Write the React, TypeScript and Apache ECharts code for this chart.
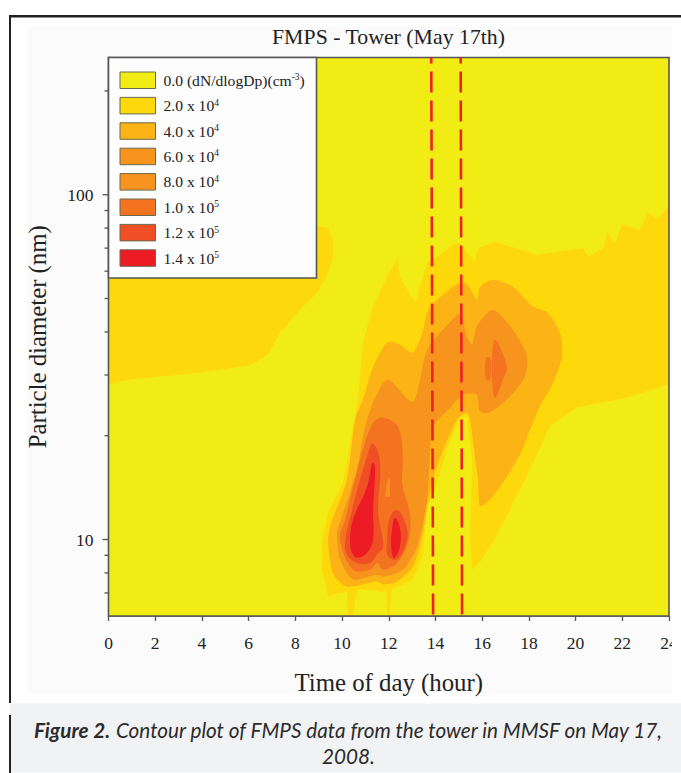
import React, { useEffect, useRef } from "react";
import * as echarts from "echarts";

type P = [number, number];

const hourTicks = [0, 2, 4, 6, 8, 10, 12, 14, 16, 18, 20, 22, 24];
const diameterLabels = [10, 100];
const diameterMinorTicks = [7, 8, 9, 20, 30, 40, 50, 60, 70, 80, 90, 200];
const samplingHours = [
  [13.82, 13.9],
  [15.08, 15.14],
];

const levelNames = [
  "0.0 (dN/dlogDp)(cm^-3)",
  "2.0 x 10^4",
  "4.0 x 10^4",
  "6.0 x 10^4",
  "8.0 x 10^4",
  "1.0 x 10^5",
  "1.2 x 10^5",
  "1.4 x 10^5",
];
const levelColors = ["#F2EC15", "#FDD90B", "#FCB316", "#F7941E", "#F7931E", "#F47321", "#F04F25", "#ED1C24"];
const levelSmooth = [0, 0, 0.25, 0.25, 0, 0.35, 0.4, 0.4];

const level0: P[][] = [[[0, 6], [24, 6], [24, 250], [0, 250]]];

const level2Band: P[] = [
  [0, 28.2], [0.92, 29.1], [3.92, 30.5], [6.06, 32], [6.83, 34.4], [7.34, 39.8], [8.2, 46.4], [8.93, 52],
  [9.27, 56.7], [9.61, 64.8], [9.61, 74], [9.4, 80], [8.97, 81], [8.2, 79], [0, 57.5],
];
const level2Main: P[] = [
  [9.4, 6.85], [9.14, 8.17], [9.14, 9.8], [9.4, 12], [10.04, 14.6], [10.68, 25.5], [10.9, 37.3], [11.29, 46.6],
  [11.93, 58], [12.27, 63.5], [12.36, 66], [12.48, 57.8], [13.13, 48.6], [13.64, 63.5], [14.2, 67], [14.75, 71.6],
  [15.05, 72.6], [15.69, 64], [15.82, 70], [16.55, 73], [18.35, 67], [20.32, 70], [20.54, 66], [21.18, 70],
  [21.35, 78], [21.69, 72], [21.99, 82], [22.76, 79], [23.1, 89], [23.49, 85], [24, 93], [24, 28.2],
  [22.2, 25.8], [20.1, 24.2], [18.9, 21.3], [18.05, 16], [16.76, 10.7], [16, 8.75], [15.57, 8.17], [15.48, 10],
  [15.57, 17.06], [15.35, 22.7], [15.05, 22.6], [14.5, 18.3], [13.9, 13.4], [13.64, 12.5], [13.47, 9.1],
  [13.04, 7.66], [12.14, 7.17], [12.01, 6], [11.93, 6], [11.93, 7.06], [10.64, 7.17], [10.47, 6], [10.25, 6],
  [10.21, 7.06],
];
const level4: P[] = [
  [9.61, 8], [9.4, 9.8], [9.49, 10.9], [10.21, 14.93], [10.56, 22.3], [10.9, 25.5], [11.33, 31.7], [11.93, 37.3],
  [12.48, 36.8], [13.04, 34.8], [13.47, 40.5], [13.64, 45.6], [14.07, 49.6], [14.92, 55], [15.35, 55], [15.78, 49.6],
  [15.91, 54], [16.46, 56.7], [17.32, 54], [18.18, 47.4], [18.78, 45.6], [19.33, 39.8], [19.42, 33.9], [19.04, 28.5],
  [18.48, 24.4], [18.05, 20.8], [17.62, 17.6], [16.98, 14.93], [16.34, 13.06], [15.91, 12.5], [15.82, 14.93],
  [15.69, 17.4], [15.48, 22.28], [15.35, 23.3], [14.92, 22.28], [14.07, 16.3], [13.68, 12.8], [13.47, 10.5],
  [13.04, 8.35], [12.36, 7.55], [11.76, 7.4], [11.5, 7.55], [10.21, 7.3],
];
const level6: P[] = [
  [9.91, 8.75], [9.78, 10.5], [9.91, 11.2], [10.64, 16], [11.07, 22.3], [11.93, 29.1], [13.04, 25.1], [13.64, 35.5],
  [14.5, 41.9], [15.05, 45], [15.35, 38.8], [15.57, 36.8], [15.78, 41.7], [16.46, 46.4], [17.32, 40.5], [17.92, 34],
  [17.83, 29.7], [17.19, 26], [16.34, 23.4], [15.91, 23.5], [15.78, 26.2], [15.61, 26.5], [15.14, 26.2], [14.63, 24.1],
  [13.9, 21.3], [13.77, 18.2], [13.64, 13.06], [13.21, 9.5], [12.61, 8.17], [11.76, 7.8], [11.5, 7.9], [10.47, 7.66],
];
const level10Morning: P[] = [
  [10.47, 8.17], [9.91, 10], [10.13, 11.43], [10.86, 17.9], [11.33, 21.8], [11.76, 22.6], [12.4, 21.2], [12.61, 17.06],
  [12.57, 14.6], [12.91, 11.75], [12.83, 9.8], [12.36, 8.55], [11.76, 8.17], [11.5, 8.55], [11.2, 8.17],
];
const level10Afternoon: P[] = [
  [16.55, 38], [17.06, 31.7], [16.89, 29.1], [16.55, 25.7], [16.42, 29.1], [16.42, 33.25],
];
const level10Sliver: P[] = [[16.16, 33.7], [16.34, 33.7], [16.34, 29.1], [16.16, 29.1]];
const level10Gap: P[] = [[11.84, 13.3], [11.93, 14.7], [12.05, 15.2], [12.05, 13.3]];
const level12Left: P[] = [
  [10.13, 9.8], [10.43, 12.2], [11.07, 17.4], [11.33, 19], [11.63, 16.7], [11.55, 12], [11.76, 9.55], [11.5, 9.05],
  [11.2, 8.55], [10.64, 8.55], [10.21, 9.05],
];
const level12Right: P[] = [
  [12.05, 11.6], [12.36, 12.2], [12.7, 11.2], [12.79, 10], [12.36, 8.75], [11.97, 8.95], [11.93, 10],
];
const level14Left: P[] = [
  [10.34, 9.8], [10.47, 11.43], [11.07, 14.2], [11.29, 16.7], [11.41, 16.3], [11.33, 12], [11.33, 10], [11.07, 9.15],
  [10.64, 8.85], [10.43, 9.15],
];
const level14Right: P[] = [
  [12.14, 10.7], [12.27, 11.55], [12.48, 10.8], [12.48, 9.55], [12.23, 8.85], [12.1, 9.55],
];

const levelRings: P[][][] = [
  level0,
  [level2Band, level2Main],
  [level4],
  [level6],
  [],
  [level10Morning, level10Afternoon, level10Sliver],
  [level12Left, level12Right],
  [level14Left, level14Right],
];

const SERIF = '"Liberation Serif", "Times New Roman", serif';
const TEXT = "#222222";
const AXIS = "#555555";

function contourSeries(name: string, color: string, rings: P[][], smooth: number) {
  return {
    type: "custom",
    name,
    silent: true,
    clip: true,
    z: 2,
    itemStyle: { color },
    data: rings.map((r) => r[0]),
    renderItem: (params: any, api: any) => ({
      type: "polygon",
      shape: { points: rings[params.dataIndex].map((p) => api.coord(p)), smooth },
      style: { fill: color },
    }),
  };
}

function tickSeries(values: number[], length: number) {
  return {
    type: "custom",
    silent: true,
    clip: false,
    z: 3,
    data: values.map((v) => [0, v]),
    renderItem: (_: any, api: any) => {
      const c = api.coord([0, api.value(1)]);
      return {
        type: "line",
        shape: { x1: c[0] - length, y1: c[1], x2: c[0], y2: c[1] },
        style: { stroke: AXIS, lineWidth: 1.3 },
      };
    },
  };
}

export default function App() {
  const ref = useRef<HTMLDivElement>(null);

  useEffect(() => {
    document.body.style.margin = "0";
    document.body.style.background = "#ffffff";
    const chart = echarts.init(ref.current!, null, { renderer: "svg" });
    const series: any[] = [];
    levelNames.forEach((n, i) => {
      series.push(contourSeries(n, levelColors[i], levelRings[i], levelSmooth[i]));
      if (i === 5) series.push(contourSeries("gap", levelColors[3], [level10Gap], 0));
    });
    samplingHours.forEach((h) => {
      series.push({
        type: "line",
        silent: true,
        clip: false,
        z: 4,
        showSymbol: false,
        data: [[h[0], 250], [h[1], 6]],
        lineStyle: { color: "#EE2127", width: 2.6, type: [21, 8], dashOffset: 15 },
      });
    });
    series.push(tickSeries(diameterLabels, 6));
    series.push(tickSeries(diameterMinorTicks, 4));
    series.push({
      type: "custom",
      silent: true,
      clip: false,
      z: 3,
      data: [[0, 6]],
      renderItem: (_: any, api: any) => {
        const a = api.coord([0, 250]);
        const b = api.coord([24, 6]);
        return {
          type: "rect",
          shape: { x: a[0], y: a[1], width: b[0] - a[0], height: b[1] - a[1] },
          style: { fill: "none", stroke: AXIS, lineWidth: 1.6 },
        };
      },
    });

    chart.setOption({
      animation: false,
      backgroundColor: "#ffffff",
      textStyle: { fontFamily: SERIF },
      title: {
        text: "FMPS - Tower (May 17th)",
        left: 388.5,
        top: 26,
        padding: 0,
        textAlign: "center",
        textStyle: { fontFamily: SERIF, fontSize: 21.8, fontWeight: "normal", color: TEXT },
      },
      grid: { left: 108.5, top: 57.5, right: 12, bottom: 157 },
      xAxis: {
        type: "value",
        min: 0,
        max: 24,
        interval: 2,
        name: "Time of day (hour)",
        nameLocation: "middle",
        nameGap: 54,
        nameTextStyle: { fontFamily: SERIF, fontSize: 24.8, color: TEXT },
        axisLine: { lineStyle: { color: AXIS, width: 1.6 } },
        axisTick: { length: 5, lineStyle: { color: AXIS, width: 1.3 } },
        axisLabel: {
          margin: 18,
          fontFamily: SERIF,
          fontSize: 17.5,
          color: TEXT,
          formatter: (v: number) => (hourTicks.includes(v) ? String(v) : ""),
        },
        splitLine: { show: false },
      },
      yAxis: {
        type: "log",
        logBase: 10,
        min: 6,
        max: 250,
        name: "Particle diameter (nm)",
        nameLocation: "middle",
        nameGap: 59,
        nameTextStyle: { fontFamily: SERIF, fontSize: 24.8, color: TEXT },
        axisLine: { lineStyle: { color: AXIS, width: 1.6 } },
        axisTick: { show: false },
        minorTick: { show: false },
        axisLabel: {
          margin: 15,
          fontFamily: SERIF,
          fontSize: 17.5,
          color: TEXT,
          showMinLabel: false,
          showMaxLabel: false,
          formatter: (v: number) => (diameterLabels.includes(Math.round(v)) ? String(Math.round(v)) : ""),
        },
        splitLine: { show: false },
      },
      legend: {
        orient: "vertical",
        left: 119.5,
        top: 71.5,
        padding: 0,
        z: 7,
        data: levelNames,
        icon: "rect",
        itemWidth: 35.5,
        itemHeight: 16.5,
        itemGap: 7.9,
        selectedMode: false,
        itemStyle: { borderColor: "#6A6A50", borderWidth: 1 },
        formatter: (n: string) => n.replace(/\^(-?\d+)/, "{sup|$1}"),
        textStyle: {
          fontFamily: SERIF,
          fontSize: 15.6,
          color: TEXT,
          padding: [0, 0, 0, 3],
          rich: {
            sup: { fontFamily: SERIF, fontSize: 9.5, color: TEXT, verticalAlign: "top", lineHeight: 9, padding: [0, 0, 6, 0] },
          },
        },
      },
      graphic: {
        elements: [
          { type: "rect", z: -2, shape: { x: 27, y: 27, width: 645, height: 666 }, style: { fill: "#FBFBFB" } },
          { type: "rect", z: -2, shape: { x: 9, y: 15, width: 672, height: 2.4 }, style: { fill: "#222222" } },
          { type: "rect", z: -2, shape: { x: 9, y: 15, width: 2, height: 688 }, style: { fill: "#222222" } },
          { type: "rect", z: -1, shape: { x: 10, y: 703.5, width: 671, height: 69 }, style: { fill: "#F1F2F4" } },
          { type: "rect", z: -1, shape: { x: 9, y: 715, width: 2, height: 58 }, style: { fill: "#222222" } },
          {
            type: "rect",
            z: 6,
            shape: { x: 108.5, y: 57.5, width: 208, height: 220.5 },
            style: { fill: "#FDFDFD", stroke: "#555555", lineWidth: 1.6 },
          },
          { type: "rect", z: 100, shape: { x: 672, y: 625, width: 9, height: 40 }, style: { fill: "#FFFFFF" } },
          {
            type: "text",
            z: 8,
            x: 348.5,
            y: 730,
            style: {
              text: "{b|Figure 2.} Contour plot of FMPS data from the tower in MMSF on May 17,",
              align: "center",
              verticalAlign: "middle",
              font: 'italic 20.7px Lato',
              fill: "#2B2B2B",
              rich: { b: { font: 'italic bold 20.7px Lato', fill: "#2B2B2B" } },
            },
          },
          {
            type: "text",
            z: 8,
            x: 348.5,
            y: 756,
            style: {
              text: "2008.",
              align: "center",
              verticalAlign: "middle",
              font: 'italic 20.7px Lato',
              fill: "#2B2B2B",
            },
          },
        ],
      },
      series,
    });
    return () => chart.dispose();
  }, []);

  return <div ref={ref} style={{ width: 681, height: 773 }} />;
}
